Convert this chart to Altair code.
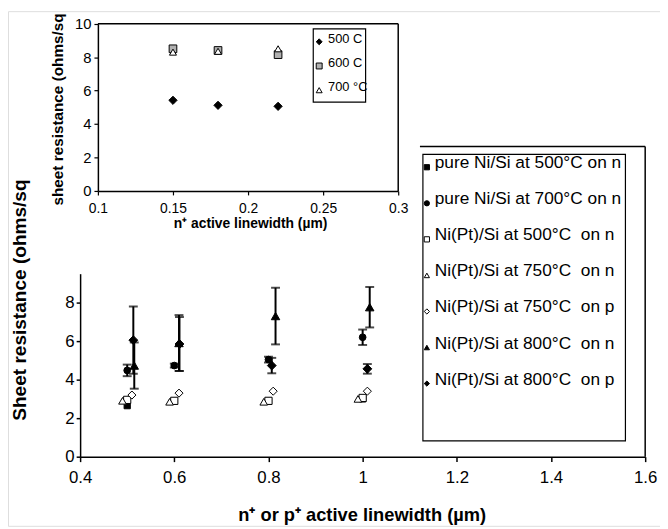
import altair as alt
import pandas as pd

# ---------------- inset data ----------------
inset_x = [0.15, 0.18, 0.22]
inset_500 = [5.42, 5.12, 5.06]
inset_600 = [8.5, 8.4, 8.15]
inset_700 = [8.3, 8.35, 8.5]
inset_labels = ["500 C", "600 C", "700 \u00b0C"]

# ---------------- main data ----------------
main_labels = [
    "pure Ni/Si at 500\u00b0C on n",
    "pure Ni/Si at 700\u00b0C on n",
    "Ni(Pt)/Si at 500\u00b0C \u00a0on n",
    "Ni(Pt)/Si at 750\u00b0C \u00a0on n",
    "Ni(Pt)/Si at 750\u00b0C \u00a0on p",
    "Ni(Pt)/Si at 800\u00b0C \u00a0on n",
    "Ni(Pt)/Si at 800\u00b0C \u00a0on p",
]
x_pure500 = [0.5, 0.6, 0.8, 1.0]
y_pure500 = [2.65, 2.88, 2.88, 3.0]
x_pure700 = [0.5, 0.6, 0.8, 1.0]
y_pure700 = [4.48, 4.73, 5.04, 6.2]
e_pure700 = [0.3, 0.1, 0.15, 0.4]
x_pt500n = [0.5, 0.6, 0.8, 1.0]
y_pt500n = [2.95, 2.9, 2.9, 3.05]
x_pt750n = [0.49, 0.59, 0.79, 0.99]
y_pt750n = [2.9, 2.85, 2.85, 3.0]
x_pt750p = [0.51, 0.61, 0.81, 1.01]
y_pt750p = [3.2, 3.3, 3.4, 3.4]
x_pt800n = [0.515, 0.61, 0.815, 1.015]
y_pt800n = [4.73, 5.9, 7.3, 7.76]
e_pt800n = [1.2, 1.45, 1.47, 1.05]
x_pt800p = [0.513, 0.611, 0.807, 1.01]
y_pt800p = [6.05, 5.85, 4.73, 4.56]
e_pt800p = [1.75, 1.4, 0.4, 0.25]

main_xs = [x_pure500, x_pure700, x_pt500n, x_pt750n, x_pt750p, x_pt800n, x_pt800p]
main_ys = [y_pure500, y_pure700, y_pt500n, y_pt750n, y_pt750p, y_pt800n, y_pt800p]
main_errs = [None, e_pure700, None, None, None, e_pt800n, e_pt800p]

# styles
main_shapes = ["square", "circle", "square", "triangle-up", "diamond", "triangle-up", "diamond"]
main_fills = ["black", "black", "white", "white", "white", "black", "black"]
main_sizes = [40, 80, 55, 60, 45, 80, 70]
inset_shapes = ["diamond", "square", "triangle-up"]
inset_fills = ["black", "#b0b0b0", "white"]
inset_sizes = [70, 50, 50]

FONT = "Liberation Sans"

rows = []
err_rows = []
for lab, xs, ys, es in zip(main_labels, main_xs, main_ys, main_errs):
    for i, (xv, yv) in enumerate(zip(xs, ys)):
        rows.append({"series": lab, "x": xv, "y": yv})
        if es is not None:
            err_rows.append({"series": lab, "x": xv, "lo": yv - es[i], "hi": yv + es[i]})
main_df = pd.DataFrame(rows)
err_df = pd.DataFrame(err_rows)

irows = []
for lab, ys in zip(inset_labels, [inset_500, inset_600, inset_700]):
    for xv, yv in zip(inset_x, ys):
        irows.append({"temp": lab, "x": xv, "y": yv})
inset_df = pd.DataFrame(irows)

main_leg_df = pd.DataFrame({"series": main_labels})
inset_leg_df = pd.DataFrame({"temp": inset_labels})

W, H = 660, 521

# ---------------- main scales / axes ----------------
mx_scale = alt.Scale(domain=[0.4, 1.6], range=[73, 645], nice=False, zero=False)
my_scale = alt.Scale(domain=[0, 9.5], range=[451, 265.75], nice=False, zero=False)

axis_common = dict(grid=False, domainColor="black", tickColor="black", labelColor="black",
                   titleColor="black", labelFont=FONT, titleFont=FONT, labelFlush=False,
                   labelOverlap=False, labelBound=False, format="~r")

mx_axis = alt.Axis(orient="bottom", offset=-70, values=[0.4, 0.6, 0.8, 1.0, 1.2, 1.4, 1.6],
                   domainWidth=1.5, tickWidth=1.5, tickSize=5, labelFontSize=17, labelPadding=8,
                   title="n\u207a or p\u207a active linewidth (\u00b5m)", titleFontSize=18.5,
                   titleFontWeight="bold", titleX=358, titleY=59, titleBaseline="middle",
                   titleAlign="center", **axis_common)
my_axis = alt.Axis(orient="left", offset=-73, values=[0, 2, 4, 6, 8],
                   domainWidth=1.5, tickWidth=1.5, tickSize=4, labelFontSize=17, labelPadding=2,
                   title="Sheet resistance (ohms/sq", titleFontSize=19.3, titleFontWeight="bold",
                   titleX=-61, titleY=292, titleAngle=270, titleBaseline="middle",
                   titleAlign="center", **axis_common)

MX = alt.X("x:Q", scale=mx_scale, axis=mx_axis)
main_shape_scale = alt.Scale(domain=main_labels, range=main_shapes)
main_fill_scale = alt.Scale(domain=main_labels, range=main_fills)

err_rule = alt.Chart(err_df).mark_rule(color="black", strokeWidth=2).encode(
    x=MX, y=alt.Y("lo:Q", scale=my_scale, axis=my_axis), y2="hi:Q")
err_caps = alt.Chart(err_df).transform_fold(["lo", "hi"], as_=["k", "v"]).mark_tick(
    color="black", orient="horizontal", size=9, thickness=2).encode(
    x=MX, y=alt.Y("v:Q", scale=my_scale, axis=my_axis))
main_pts = alt.Chart(main_df).mark_point(filled=True, stroke="black", strokeWidth=1, opacity=1).encode(
    x=MX,
    y=alt.Y("y:Q", scale=my_scale, axis=my_axis),
    shape=alt.Shape("series:N", scale=main_shape_scale, legend=None),
    fill=alt.Fill("series:N", scale=main_fill_scale, legend=None),
    size=alt.Size("series:N", scale=alt.Scale(domain=main_labels, range=main_sizes), legend=None),
)
main = alt.layer(err_rule, err_caps, main_pts)

# main legend (drawn as marks)
mleg_y = alt.Y("series:N", scale=alt.Scale(type="point", domain=main_labels, range=[158, 377], padding=0),
               axis=None)
mleg_sym = alt.Chart(main_leg_df).mark_point(filled=True, stroke="black", strokeWidth=1, opacity=1,
                                              size=28).encode(
    x=alt.value(424), y=mleg_y,
    shape=alt.Shape("series:N", scale=main_shape_scale, legend=None),
    fill=alt.Fill("series:N", scale=main_fill_scale, legend=None),
)
mleg_txt = alt.Chart(main_leg_df).mark_text(align="left", baseline="middle", dy=-4, font=FONT,
                                             fontSize=17.5, color="black").encode(
    x=alt.value(432), y=mleg_y, text="series:N")
main_leg = alt.layer(mleg_sym, mleg_txt)

# ---------------- inset ----------------
ix_scale = alt.Scale(domain=[0.1, 0.3], range=[91, 395], nice=False, zero=False)
iy_scale = alt.Scale(domain=[0, 10], range=[182, 12.7], nice=False, zero=False)
ix_axis = alt.Axis(orient="bottom", offset=-339, values=[0.1, 0.15, 0.2, 0.25, 0.3],
                   domainWidth=1.5, tickWidth=1.2, tickSize=4, labelFontSize=14, labelPadding=7,
                   title="n\u207a active linewidth (\u00b5m)", titleFontSize=14, titleFontWeight="bold",
                   titleX=245, titleY=33, titleBaseline="middle", titleAlign="center", **axis_common)
iy_axis = alt.Axis(orient="left", offset=-91, values=[0, 2, 4, 6, 8, 10],
                   domainWidth=1.5, tickWidth=1.2, tickSize=4, labelFontSize=15, labelPadding=3,
                   title="sheet resistance (ohms/sq", titleFontSize=15.5, titleFontWeight="bold",
                   titleX=-41, titleY=99, titleAngle=270, titleBaseline="middle",
                   titleAlign="center", **axis_common)
inset_shape_scale = alt.Scale(domain=inset_labels, range=inset_shapes)
inset_fill_scale = alt.Scale(domain=inset_labels, range=inset_fills)
inset = alt.Chart(inset_df).mark_point(filled=True, stroke="black", strokeWidth=1, opacity=1).encode(
    x=alt.X("x:Q", scale=ix_scale, axis=ix_axis),
    y=alt.Y("y:Q", scale=iy_scale, axis=iy_axis),
    shape=alt.Shape("temp:N", scale=inset_shape_scale, legend=None),
    fill=alt.Fill("temp:N", scale=inset_fill_scale, legend=None),
    size=alt.Size("temp:N", scale=alt.Scale(domain=inset_labels, range=inset_sizes), legend=None),
)

ileg_y = alt.Y("temp:N", scale=alt.Scale(type="point", domain=inset_labels, range=[31, 80], padding=0),
               axis=None)
ileg_sym = alt.Chart(inset_leg_df).mark_point(filled=True, stroke="black", strokeWidth=1, opacity=1,
                                               size=36).encode(
    x=alt.value(315), y=ileg_y,
    shape=alt.Shape("temp:N", scale=inset_shape_scale, legend=None),
    fill=alt.Fill("temp:N", scale=inset_fill_scale, legend=None),
)
ileg_txt = alt.Chart(inset_leg_df).mark_text(align="left", baseline="middle", dy=-3, font=FONT,
                                              fontSize=13, color="black").encode(
    x=alt.value(324), y=ileg_y, text="temp:N")
inset_leg = alt.layer(ileg_sym, ileg_txt)

# ---------------- frames & boxes ----------------
one = alt.Data(values=[{"a": 1}])


def hline(x1, x2, y, w=1.5):
    return alt.Chart(one).mark_rule(color="black", strokeWidth=w).encode(
        x=alt.value(x1), x2=alt.value(x2), y=alt.value(y))


def vline(x, y1, y2, w=1.5):
    return alt.Chart(one).mark_rule(color="black", strokeWidth=w).encode(
        x=alt.value(x), y=alt.value(y1), y2=alt.value(y2))


def box(x1, x2, y1, y2, w=1.2):
    return alt.Chart(one).mark_rect(fill="white", fillOpacity=0, stroke="black", strokeWidth=w).encode(
        x=alt.value(x1), x2=alt.value(x2), y=alt.value(y1), y2=alt.value(y2))


frames = [
    hline(417, 645, 137),
    vline(645, 137, 451),
    hline(91, 395, 12.7),
    vline(395, 12.7, 182),
    box(420, 625, 145, 435),
    box(309, 362, 18, 92),
]

chart = alt.layer(*frames, main, main_leg, inset, inset_leg).resolve_scale(
    x="independent", y="independent", shape="independent", fill="independent", size="independent"
).properties(
    width=W, height=H, autosize=alt.AutoSizeParams(type="none"), padding=0
).configure_view(stroke=None).configure(font=FONT, background="white")

chart.save("out.html", embed_options={"renderer": "svg", "actions": False})
